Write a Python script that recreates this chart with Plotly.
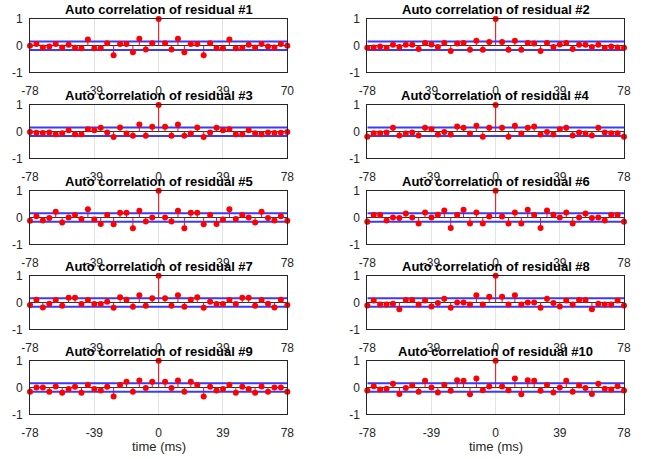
import plotly.graph_objects as go

# Lags in ms (41 lags, step 3.9 ms)
lags = [-78.0, -74.1, -70.2, -66.3, -62.4, -58.5, -54.6, -50.7, -46.8, -42.9, -39.0,
        -35.1, -31.2, -27.3, -23.4, -19.5, -15.6, -11.7, -7.8, -3.9, 0.0,
        3.9, 7.8, 11.7, 15.6, 19.5, 23.4, 27.3, 31.2, 35.1, 39.0,
        42.9, 46.8, 50.7, 54.6, 58.5, 62.4, 66.3, 70.2, 74.1, 78.0]

acf_1 = [0.0, 0.06, -0.07, -0.03, 0.06, -0.07, 0.03, -0.08, -0.1, 0.23, -0.1,
         -0.09, 0.09, -0.36, 0.06, 0.06, -0.25, 0.26, -0.14, 0.09, 1.0,
         0.09, -0.14, 0.26, -0.25, 0.06, 0.06, -0.36, 0.09, -0.09, -0.1,
         0.23, -0.1, -0.08, 0.03, -0.07, 0.06, -0.03, -0.07, 0.06, 0.0]
acf_2 = [-0.08, -0.07, -0.03, -0.08, 0.03, -0.05, 0.03, 0.03, -0.13, 0.1, 0.04,
         -0.05, 0.1, -0.2, 0.08, 0.1, -0.15, 0.18, -0.15, 0.14, 1.0,
         0.14, -0.15, 0.18, -0.15, 0.1, 0.08, -0.2, 0.1, -0.05, 0.04,
         0.1, -0.13, 0.03, 0.03, -0.05, 0.03, -0.08, -0.03, -0.07, -0.08]
acf_3 = [-0.01, -0.04, -0.05, -0.03, -0.1, -0.06, 0.05, -0.1, -0.1, 0.09, 0.05,
         0.15, -0.03, -0.2, 0.16, -0.07, -0.15, 0.27, -0.15, 0.18, 1.0,
         0.18, -0.15, 0.27, -0.15, -0.07, 0.16, -0.2, -0.03, 0.15, 0.05,
         0.09, -0.1, -0.1, 0.05, -0.06, -0.1, -0.03, -0.05, -0.04, -0.01]
acf_4 = [-0.19, -0.06, -0.06, -0.03, 0.15, -0.14, -0.07, -0.03, -0.14, 0.15, 0.09,
         -0.11, -0.01, -0.11, 0.19, 0.15, -0.07, 0.22, -0.19, 0.15, 1.0,
         0.15, -0.19, 0.22, -0.07, 0.15, 0.19, -0.11, -0.01, -0.11, 0.09,
         0.15, -0.14, -0.03, -0.07, -0.14, 0.15, -0.03, -0.06, -0.06, -0.19]
acf_5 = [-0.12, 0.05, -0.11, -0.02, 0.21, -0.19, 0.0, 0.09, -0.06, 0.31, -0.07,
         -0.24, 0.09, -0.25, 0.18, 0.18, -0.4, 0.25, -0.15, 0.0, 1.0,
         0.0, -0.15, 0.25, -0.4, 0.18, 0.18, -0.25, 0.09, -0.24, -0.07,
         0.31, -0.06, 0.09, 0.0, -0.19, 0.21, -0.02, -0.11, 0.05, -0.12]
acf_6 = [-0.16, 0.09, 0.09, -0.11, 0.0, -0.02, 0.15, 0.0, -0.22, 0.19, 0.0,
         0.1, 0.26, -0.39, 0.09, 0.29, -0.22, 0.19, -0.22, 0.04, 1.0,
         0.04, -0.22, 0.19, -0.22, 0.29, 0.09, -0.39, 0.26, 0.1, 0.0,
         0.19, -0.22, 0.0, 0.15, -0.02, 0.0, -0.11, 0.09, 0.09, -0.16]
acf_7 = [-0.09, 0.1, -0.19, -0.05, 0.09, -0.12, 0.18, 0.18, -0.06, 0.09, -0.06,
         -0.06, 0.03, -0.2, 0.2, 0.1, -0.16, 0.27, -0.12, 0.16, 1.0,
         0.16, -0.12, 0.27, -0.16, 0.1, 0.2, -0.2, 0.03, -0.06, -0.06,
         0.09, -0.06, 0.18, 0.18, -0.12, 0.09, -0.05, -0.19, 0.1, -0.09]
acf_8 = [-0.11, 0.07, -0.07, -0.07, -0.05, -0.25, 0.09, 0.09, -0.07, 0.07, -0.15,
         -0.02, 0.14, -0.2, 0.0, 0.0, -0.07, 0.27, -0.07, 0.21, 1.0,
         0.21, -0.07, 0.27, -0.07, 0.0, 0.0, -0.2, 0.14, -0.02, -0.15,
         0.07, -0.07, 0.09, 0.09, -0.25, -0.05, -0.07, -0.07, 0.07, -0.11]
acf_9 = [-0.16, 0.0, 0.0, -0.16, 0.04, -0.2, -0.06, 0.03, -0.2, 0.09, -0.06,
         -0.11, 0.03, -0.34, 0.09, 0.21, -0.16, 0.26, -0.02, 0.21, 1.0,
         0.21, -0.02, 0.26, -0.16, 0.21, 0.09, -0.34, 0.03, -0.11, -0.06,
         0.09, -0.2, 0.03, -0.06, -0.2, 0.04, -0.16, 0.0, 0.0, -0.16]
acf_10 = [-0.11, 0.05, -0.07, -0.05, 0.14, -0.24, -0.02, 0.07, -0.16, 0.25, 0.0,
          -0.19, 0.09, -0.12, 0.27, 0.25, -0.25, 0.34, -0.1, 0.04, 1.0,
          0.04, -0.1, 0.34, -0.25, 0.27, 0.25, -0.12, 0.09, -0.19, 0.0,
          0.25, -0.16, 0.07, -0.02, -0.24, 0.14, -0.05, -0.07, 0.05, -0.11]

series = [acf_1, acf_2, acf_3, acf_4, acf_5, acf_6, acf_7, acf_8, acf_9, acf_10]
titles = ["Auto correlation of residual #%d" % (i + 1) for i in range(10)]

conf_bound = 0.16

xtick_vals = [-78, -39, 0, 39, 78]
xtick_text_default = ["-78", "-39", "0", "39", "78"]
xtick_text_panel1 = ["-78", "-39", "0", "39", "70"]
xtick_text_panel2 = ["-78", "39", "0", "39", "78"]
ytick_vals = [-1, 0, 1]
ytick_text = ["-1", "0", "1"]

W, H = 648, 459
col_px = [(30, 287.3), (367.3, 624)]
row_px = [(19, 72.3), (105, 158.3), (190.7, 244.3), (275.7, 329.3), (360.7, 414.3)]

RED = "#ff0000"
BLUE = "#3a3aff"
AXC = "#262626"
FONT = "Liberation Sans, Arial, sans-serif"

fig = go.Figure()
annotations = []

for i, (vals, title) in enumerate(zip(series, titles)):
    r, c = i // 2, i % 2
    n = i + 1
    xa = "x" if n == 1 else "x%d" % n
    ya = "y" if n == 1 else "y%d" % n
    # stems
    sx, sy = [], []
    for lx, v in zip(lags, vals):
        sx += [lx, lx, None]
        sy += [0, v, None]
    fig.add_trace(go.Scatter(x=sx, y=sy, mode="lines", line=dict(color=RED, width=1),
                             xaxis=xa, yaxis=ya, showlegend=False, hoverinfo="skip",
                             cliponaxis=False))
    # confidence bounds
    for b in (conf_bound, -conf_bound):
        fig.add_trace(go.Scatter(x=[lags[0], lags[-1]], y=[b, b], mode="lines",
                                 line=dict(color=BLUE, width=2),
                                 xaxis=xa, yaxis=ya, showlegend=False, hoverinfo="skip"))
    # markers
    fig.add_trace(go.Scatter(x=lags, y=vals, mode="markers",
                             marker=dict(color=RED, size=6, line=dict(width=0)),
                             xaxis=xa, yaxis=ya, showlegend=False, cliponaxis=False))

    x0, x1 = col_px[c]
    y0, y1 = row_px[r]
    xdom = [x0 / W, x1 / W]
    ydom = [1 - y1 / H, 1 - y0 / H]
    if n == 1:
        ttext = xtick_text_panel1
    elif n == 2:
        ttext = xtick_text_panel2
    else:
        ttext = xtick_text_default
    xkey = "xaxis" if n == 1 else "xaxis%d" % n
    ykey = "yaxis" if n == 1 else "yaxis%d" % n
    fig.layout[xkey] = dict(domain=xdom, anchor=ya, range=[-78, 78], automargin=False,
                            tickvals=xtick_vals, ticktext=ttext,
                            showgrid=True, gridcolor="#e3e3e3", gridwidth=1,
                            zeroline=False, showline=True, linecolor=AXC, linewidth=1,
                            mirror=True, ticks="outside", ticklen=7,
                            tickcolor="rgba(0,0,0,0)",
                            tickfont=dict(family=FONT, size=12, color=AXC),
                            fixedrange=True)
    fig.layout[ykey] = dict(domain=ydom, anchor=xa, range=[-1, 1], automargin=False,
                            tickvals=ytick_vals, ticktext=ytick_text,
                            showgrid=False, zeroline=True, zerolinecolor="#333333",
                            zerolinewidth=1, showline=True, linecolor=AXC, linewidth=1,
                            mirror=True, ticks="outside", ticklen=4,
                            tickcolor="rgba(0,0,0,0)",
                            tickfont=dict(family=FONT, size=12, color=AXC),
                            fixedrange=True)
    annotations.append(dict(text="<b>%s</b>" % title, xref="paper", yref="paper",
                            x=(xdom[0] + xdom[1]) / 2, y=ydom[1], xanchor="center",
                            yanchor="bottom", yshift=0, showarrow=False,
                            font=dict(family=FONT, size=13, color="#000000")))
    if r == 4:
        annotations.append(dict(text="time (ms)", xref="paper", yref="paper",
                                x=(xdom[0] + xdom[1]) / 2, y=ydom[0], xanchor="center",
                                yanchor="top", yshift=-23, showarrow=False,
                                font=dict(family=FONT, size=13, color=AXC)))

fig.update_layout(width=W, height=H,
                  margin=dict(l=0, r=0, t=0, b=0, autoexpand=False),
                  paper_bgcolor="white", plot_bgcolor="white",
                  annotations=annotations, showlegend=False)

fig.write_html("out.html", config={"displayModeBar": False},
               post_script="document.body.style.margin='0';document.body.style.overflow='hidden';")
